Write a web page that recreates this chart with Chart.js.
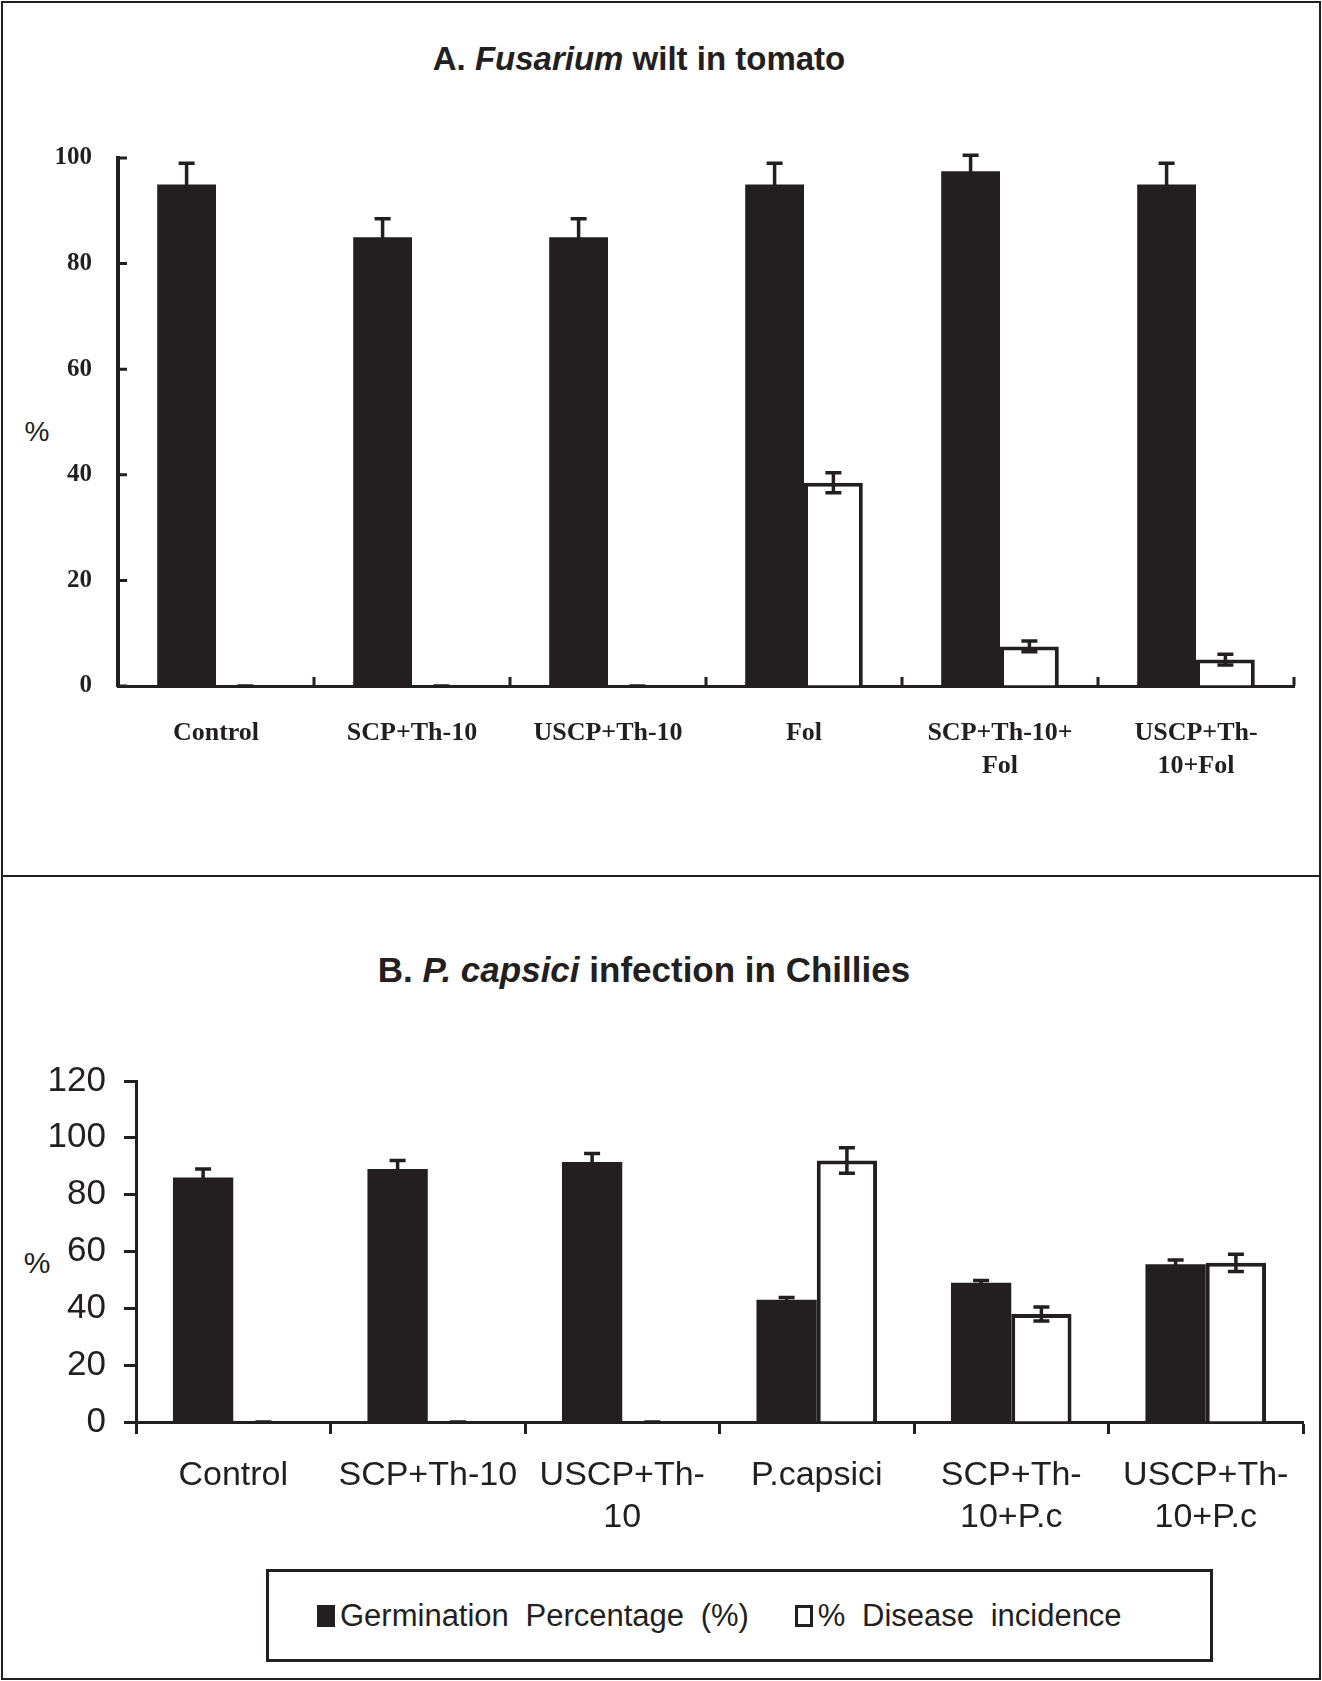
<!DOCTYPE html>
<html lang="en">
<head>
<meta charset="UTF-8">
<title>Fusarium wilt in tomato / P. capsici infection in Chillies</title>
<script src="https://cdn.jsdelivr.net/npm/chart.js"></script>
<style>
  html, body { margin: 0; padding: 0; background: #fff; }
  body { width: 1322px; height: 1681px; position: relative; overflow: hidden;
         font-family: 'Liberation Sans', Arial, sans-serif; color: #231f20; }
  .frame { position: absolute; left: 1px; top: 1px; width: 1316px; height: 1675px; border: 2px solid #231f20; }
  .divider { position: absolute; left: 1px; top: 875px; width: 1320px; height: 2px; background: #231f20; }
  .title { position: absolute; transform: translate(-50%, -50%); font-weight: bold; white-space: nowrap; }
  .ylab { position: absolute; transform: translate(-50%, -50%); font-size: 28px; }
  .box { position: absolute; }
  .legend { position: absolute; left: 266px; top: 1569px; width: 893px; height: 87px;
            border: 3px solid #231f20; display: flex; align-items: center; padding-left: 48px;
            box-sizing: content-box; font-size: 31px; word-spacing: 8px; }
  .legend .item { display: flex; align-items: center; margin-right: 46px; }
  .legend .sw { width: 18px; height: 22px; margin-right: 5px; box-sizing: border-box; }
</style>
</head>
<body>
<div class="frame"></div>
<div class="divider"></div>

<!-- Panel A -->
<div class="title" style="left:639px; top:59px; font-size:33px;">A. <i>Fusarium</i> wilt in tomato</div>
<div class="ylab" style="left:37px; top:432px;">%</div>
<div class="box" style="left:2px; top:2px;"><canvas id="chartA" width="1318" height="872"></canvas></div>

<!-- Panel B -->
<div class="title" style="left:644px; top:970px; font-size:35px;">B. <i>P. capsici</i> infection in Chillies</div>
<div class="ylab" style="left:37px; top:1263px; font-size:30px;">%</div>
<div class="box" style="left:2px; top:878px;"><canvas id="chartB" width="1318" height="690"></canvas></div>
<div class="legend" id="legendB"></div>

<script>
// ---- data ----
const seriesLabels = ['Germination Percentage (%)', '% Disease incidence'];

const catsA = ['Control', 'SCP+Th-10', 'USCP+Th-10', 'Fol', ['SCP+Th-10+', 'Fol'], ['USCP+Th-', '10+Fol']];
const germA = [95, 85, 85, 95, 97.5, 95];
const germErrA = [4, 3.5, 3.5, 4, 3, 4];
const diseaseA = [0, 0, 0, 38.5, 7.5, 5];
const diseaseErrA = [0, 0, 0, 1.9, 1, 1];
const ticksA = { min: 0, max: 100, step: 20 };

const catsB = ['Control', 'SCP+Th-10', ['USCP+Th-', '10'], 'P.capsici', ['SCP+Th-', '10+P.c'], ['USCP+Th-', '10+P.c']];
const germB = [86, 89, 91.5, 43, 49, 55.5];
const germErrB = [3, 3, 3, 0.8, 0.8, 1.5];
const diseaseB = [0, 0, 0, 92, 38, 56];
const diseaseErrB = [0, 0, 0, 4.5, 2.5, 3];
const ticksB = { min: 0, max: 120, step: 20 };

const INK = '#231f20';

// error bars drawn from the bar elements + y scale
const errorBars = {
  id: 'errorBars',
  afterDatasetsDraw(chart) {
    const ctx = chart.ctx, y = chart.scales.y;
    ctx.save();
    ctx.strokeStyle = INK;
    ctx.lineWidth = 3.5;
    chart.data.datasets.forEach((ds, i) => {
      const meta = chart.getDatasetMeta(i);
      meta.data.forEach((bar, j) => {
        const v = ds.data[j], e = ds.errors[j];
        const top = y.getPixelForValue(v + e);
        const bot = y.getPixelForValue(Math.max(v - e, 0));
        const cw = 8;
        ctx.beginPath();
        ctx.moveTo(bar.x, top); ctx.lineTo(bar.x, bot);
        ctx.moveTo(bar.x - cw, top); ctx.lineTo(bar.x + cw, top);
        ctx.moveTo(bar.x - cw, bot); ctx.lineTo(bar.x + cw, bot);
        ctx.stroke();
      });
    });
    ctx.restore();
  }
};

// inside tick marks (panel A)
const innerTicks = {
  id: 'innerTicks',
  afterDraw(chart) {
    const { ctx, scales: { x, y }, chartArea: a } = chart;
    ctx.save();
    ctx.strokeStyle = INK;
    ctx.lineWidth = 3;
    ctx.beginPath();
    y.ticks.forEach(t => {
      const py = y.getPixelForValue(t.value);
      ctx.moveTo(a.left, py); ctx.lineTo(a.left + 9, py);
    });
    const step = x.getPixelForValue(1) - x.getPixelForValue(0);
    for (let i = 1; i <= x.ticks.length; i++) {
      const px = x.getPixelForValue(i) - step / 2;
      ctx.moveTo(px, a.bottom); ctx.lineTo(px, a.bottom - 9);
    }
    ctx.stroke();
    ctx.restore();
  }
};

function datasets(germ, germErr, dis, disErr) {
  return [{
    label: seriesLabels[0],
    data: germ,
    errors: germErr,
    backgroundColor: INK,
    borderWidth: 0
  }, {
    label: seriesLabels[1],
    data: dis,
    errors: disErr,
    backgroundColor: '#fff',
    borderColor: INK,
    borderWidth: 4
  }];
}

// Panel A
new Chart(document.getElementById('chartA'), {
  type: 'bar',
  data: { labels: catsA, datasets: datasets(germA, germErrA, diseaseA, diseaseErrA) },
  options: {
    responsive: false,
    animation: false,
    categoryPercentage: 0.6,
    barPercentage: 1,
    layout: { padding: { left: 0, top: 156, right: 26, bottom: 60 } },
    plugins: { legend: { display: false }, tooltip: { enabled: false } },
    scales: {
      x: {
        grid: { drawOnChartArea: false, drawTicks: false },
        border: { color: INK, width: 3 },
        ticks: { color: INK, padding: 30, autoSkip: false, maxRotation: 0,
                 font: { family: "'Liberation Serif', 'Times New Roman', serif", weight: 'bold', size: 26, lineHeight: 1.3 } },
        afterFit: s => { s.height = 128; }
      },
      y: {
        min: ticksA.min, max: ticksA.max,
        grid: { drawOnChartArea: false, drawTicks: false },
        border: { color: INK, width: 4 },
        ticks: { stepSize: ticksA.step, color: INK, padding: 26,
                 font: { family: "'Liberation Serif', 'Times New Roman', serif", weight: 'bold', size: 25 } },
        afterFit: s => { s.width = 116; }
      }
    }
  },
  plugins: [errorBars, innerTicks]
});

// Panel B
new Chart(document.getElementById('chartB'), {
  type: 'bar',
  data: { labels: catsB, datasets: datasets(germB, germErrB, diseaseB, diseaseErrB) },
  options: {
    responsive: false,
    animation: false,
    categoryPercentage: 0.62,
    barPercentage: 1,
    layout: { padding: { left: 0, top: 203, right: 17, bottom: 16 } },
    plugins: { legend: { display: false }, tooltip: { enabled: false } },
    scales: {
      x: {
        grid: { offset: true, drawOnChartArea: false, tickLength: 12, tickWidth: 3, tickColor: INK },
        border: { color: INK, width: 3 },
        ticks: { color: INK, padding: 20, autoSkip: false, maxRotation: 0,
                 font: { family: "'Liberation Sans', Arial, sans-serif", size: 34, lineHeight: 1.25 } },
        afterFit: s => { s.height = 130; }
      },
      y: {
        min: ticksB.min, max: ticksB.max,
        grid: { drawOnChartArea: false, tickLength: 12, tickWidth: 3, tickColor: INK },
        border: { color: INK, width: 3 },
        ticks: { stepSize: ticksB.step, color: INK, padding: 18,
                 font: { family: "'Liberation Sans', Arial, sans-serif", size: 35 } },
        afterFit: s => { s.width = 134; }
      }
    }
  },
  plugins: [errorBars]
});

// legend for panel B
const legend = document.getElementById('legendB');
const swatches = [{ bg: INK, border: 'none' }, { bg: '#fff', border: '3px solid ' + INK }];
seriesLabels.forEach((lab, i) => {
  const item = document.createElement('div');
  item.className = 'item';
  const sw = document.createElement('span');
  sw.className = 'sw';
  sw.style.background = swatches[i].bg;
  sw.style.border = swatches[i].border;
  const tx = document.createElement('span');
  tx.textContent = lab;
  item.appendChild(sw);
  item.appendChild(tx);
  legend.appendChild(item);
});
</script>
</body>
</html>
